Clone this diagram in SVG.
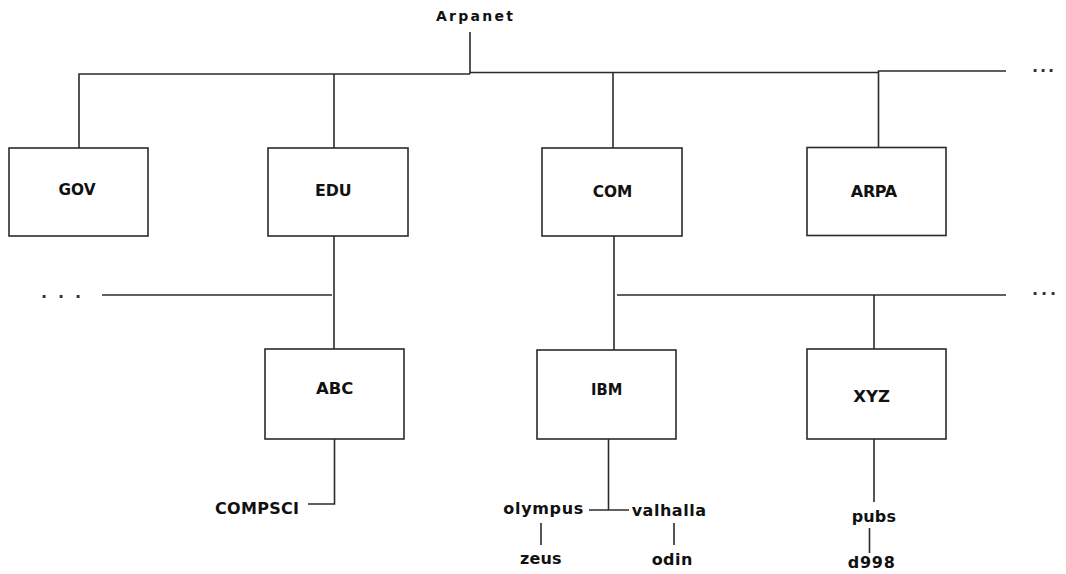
<svg xmlns="http://www.w3.org/2000/svg" width="1066" height="574" viewBox="0 0 1066 574">
<style>
.box{fill:#fff;stroke:#2b2b2b;stroke-width:1.6}
.ln{fill:none;stroke:#2b2b2b;stroke-width:1.6}
text{font-family:"DejaVu Sans","Liberation Sans",Arial,sans-serif;font-weight:bold;font-size:16px;fill:#111;text-anchor:middle}
.sm{font-size:14px}
.dots{font-size:16px;fill:#333}
</style>
<rect width="1066" height="574" fill="#fff"/>
<g id="connectors">
<path class="ln" d="M470,32 V74"/>
<path class="ln" d="M79,148 V74 H470"/>
<path class="ln" d="M470,72.5 H878"/>
<path class="ln" d="M878.5,147.5 V71 H1006"/>
<path class="ln" d="M334,74 V148"/>
<path class="ln" d="M613,72.5 V148"/>
<path class="ln" d="M334,236 V349"/>
<path class="ln" d="M102,295 H332"/>
<path class="ln" d="M614,236 V350"/>
<path class="ln" d="M617,295 H1006"/>
<path class="ln" d="M874,295 V349"/>
<path class="ln" d="M334.5,439 V504 H308"/>
<path class="ln" d="M608.5,439 V510"/>
<path class="ln" d="M589,510 H629"/>
<path class="ln" d="M541,523 V545"/>
<path class="ln" d="M674,523 V545"/>
<path class="ln" d="M874,439 V502"/>
<path class="ln" d="M869.5,528 V553"/>
</g>
<g id="arpanet"><text class="sm" x="474.5" y="21" textLength="77" lengthAdjust="spacing">Arpanet</text></g>
<g id="dots-top"><text class="dots" x="1043" y="72" textLength="22" lengthAdjust="spacing">...</text></g>
<g id="dots-left"><text class="dots" x="61" y="298" textLength="40" lengthAdjust="spacing">...</text></g>
<g id="dots-right"><text class="dots" x="1044" y="295" textLength="24" lengthAdjust="spacing">...</text></g>
<g id="gov"><rect class="box" x="9" y="148" width="139" height="88"/><text x="77" y="195" textLength="37" lengthAdjust="spacingAndGlyphs">GOV</text></g>
<g id="edu"><rect class="box" x="268" y="148" width="140" height="88"/><text x="333.3" y="196" textLength="36.7" lengthAdjust="spacingAndGlyphs">EDU</text></g>
<g id="com"><rect class="box" x="542" y="148" width="140" height="88"/><text x="612.5" y="196.5" textLength="39.6" lengthAdjust="spacingAndGlyphs">COM</text></g>
<g id="arpa"><rect class="box" x="807" y="147.5" width="139" height="88"/><text x="874" y="196.5" textLength="46.3" lengthAdjust="spacing">ARPA</text></g>
<g id="abc"><rect class="box" x="265" y="349" width="139" height="90"/><text x="334.7" y="394" textLength="37.3" lengthAdjust="spacingAndGlyphs">ABC</text></g>
<g id="ibm"><rect class="box" x="537" y="350" width="139" height="89"/><text x="606.7" y="395" textLength="31.3" lengthAdjust="spacingAndGlyphs">IBM</text></g>
<g id="xyz"><rect class="box" x="807" y="349" width="139" height="90"/><text x="871.7" y="401.5" textLength="36.7" lengthAdjust="spacingAndGlyphs">XYZ</text></g>
<g id="compsci"><text x="257" y="514" textLength="84" lengthAdjust="spacing">COMPSCI</text></g>
<g id="olympus"><text x="543.3" y="514" textLength="80" lengthAdjust="spacing">olympus</text></g>
<g id="valhalla"><text x="668.8" y="515.5" textLength="74.3" lengthAdjust="spacing">valhalla</text></g>
<g id="zeus"><text x="540.8" y="564" textLength="41.7" lengthAdjust="spacing">zeus</text></g>
<g id="odin"><text x="672" y="565" textLength="40.6" lengthAdjust="spacing">odin</text></g>
<g id="pubs"><text x="873.8" y="522" textLength="44.3" lengthAdjust="spacing">pubs</text></g>
<g id="d998"><text x="871.3" y="568" textLength="47.3" lengthAdjust="spacing">d998</text></g>
</svg>
